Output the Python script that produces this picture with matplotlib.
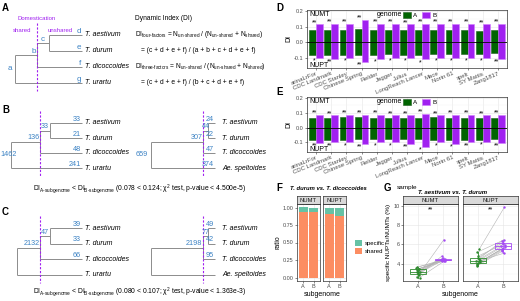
import numpy as np
import matplotlib.pyplot as plt

plt.rcParams["font.family"] = ["Liberation Sans", "DejaVu Sans"]
plt.rcParams["mathtext.default"] = "regular"

W, H = 520, 301
BLUE = "#3b82c4"
PURPLE = "#a020f0"
GREEN = "#006400"
GRAY_TXT = "#4d4d4d"

# ---------------- data ----------------
leaves_urartu = ["T. aestivum", "T. durum", "T. dicoccoides", "T. urartu"]
leaves_spelt = ["T. aestivum", "T. durum", "T. dicoccoides", "Ae. speltoides"]
node_letters = ["a", "b", "c", "d", "e", "f", "g"]
b_left_counts = [1462, 136, 33, 33, 21, 48, 241]
b_right_counts = [659, 307, 44, 24, 22, 47, 374]
c_left_counts = [None, 2132, 47, 39, 33, 66, None]
c_right_counts = [None, 2198, 77, 49, 42, 95, None]

cultivars = ["arinaLrFor", "CDC Landmark", "CDC Stanley", "Chinese Spring", "Fielder",
             "Jagger", "Julius", "LongReach Lancer", "Mace", "Norin 61", "spelt",
             "SY Mattis", "Zang1817"]
d_numt_a = [0.078, 0.078, 0.080, 0.082, 0.078, 0.080, 0.078, 0.078, 0.078, 0.078, 0.080, 0.075, 0.080]
d_numt_b = [0.115, 0.118, 0.118, 0.145, 0.118, 0.118, 0.115, 0.120, 0.118, 0.120, 0.118, 0.115, 0.120]
d_nupt_a = [-0.080, -0.080, -0.080, -0.080, -0.080, -0.075, -0.080, -0.080, -0.078, -0.078, -0.078, -0.078, -0.072]
d_nupt_b = [-0.100, -0.105, -0.100, -0.125, -0.105, -0.100, -0.100, -0.110, -0.100, -0.100, -0.100, -0.100, -0.105]
d_sig_top = ["**"] * 13
d_sig_bottom = ["*", "**", "*", "**", "*", "*", "*", "*", "*", "*", "*", "*", "**"]

e_numt_a = [0.068, 0.065, 0.070, 0.070, 0.068, 0.068, 0.065, 0.068, 0.070, 0.065, 0.068, 0.068, 0.068]
e_numt_b = [0.085, 0.083, 0.088, 0.085, 0.085, 0.083, 0.083, 0.092, 0.083, 0.085, 0.085, 0.083, 0.085]
e_nupt_a = [-0.082, -0.085, -0.082, -0.080, -0.080, -0.080, -0.080, -0.080, -0.082, -0.082, -0.082, -0.082, -0.078]
e_nupt_b = [-0.105, -0.100, -0.100, -0.108, -0.100, -0.100, -0.108, -0.130, -0.100, -0.108, -0.100, -0.098, -0.105]
e_sig_top = ["**"] * 13
e_sig_bottom = ["**", "**", "*", "**", "*", "*", "**", "*", "*", "*", "**", "*", "**"]

facets = ["NUMT", "NUPT"]
subgenomes = ["A", "B"]
f_numt_shared = [0.94, 0.93]
f_nupt_shared = [0.91, 0.88]

g_numt_a = [3.6, 3.3, 3.5, 2.7, 3.0, 3.2, 3.7, 2.9, 3.4, 3.1, 2.6, 3.2, 3.5]
g_numt_b = [4.4, 4.5, 4.3, 4.8, 4.4, 4.5, 4.3, 6.5, 4.4, 4.6, 4.3, 4.5, 4.4]
g_nupt_a = [4.3, 4.6, 5.5, 3.9, 4.1, 4.4, 5.2, 4.3, 4.0, 4.8, 4.2, 3.8, 4.5]
g_nupt_b = [5.8, 6.2, 9.8, 5.4, 5.6, 5.9, 6.4, 5.1, 5.5, 6.0, 5.7, 5.3, 6.5]

fig = plt.figure(figsize=(5.2, 3.01), dpi=100)


def px_axes(x0, y0, x1, y1):
    return fig.add_axes([x0 / W, 1 - y1 / H, (x1 - x0) / W, (y1 - y0) / H])


# left column canvas in pixel units
lc = px_axes(0, 0, 260, 301)
lc.set_xlim(0, 260)
lc.set_ylim(301, 0)
lc.axis("off")


def ctext(x, y, s, **kw):
    t = lc.text(x, y, s, **kw)
    t.set_clip_path(lc.patch)
    return t


def draw_tree(labels, leaves, root_x, b_x, c_x, tip_x, top_y, dy, a_x, a_ha,
              fs=5.2, name_dx=3):
    ys = top_y + dy * np.arange(4)
    c_y = (ys[0] + ys[1]) / 2
    b_y = (c_y + ys[2]) / 2
    a_y = (b_y + ys[3]) / 2
    segs = [([root_x, root_x], [b_y, ys[3]]), ([root_x, b_x], [b_y, b_y]),
            ([b_x, b_x], [c_y, ys[2]]), ([b_x, c_x], [c_y, c_y]),
            ([c_x, c_x], [ys[0], ys[1]]), ([c_x, tip_x], [ys[0], ys[0]]),
            ([c_x, tip_x], [ys[1], ys[1]]), ([b_x, tip_x], [ys[2], ys[2]]),
            ([root_x, tip_x], [ys[3], ys[3]])]
    for xs, yy in segs:
        lc.plot(xs, yy, color="#8c8c8c", lw=0.7, solid_capstyle="butt")
    lc.plot([b_x, b_x], [top_y - 12, ys[3] + 8], color=PURPLE, lw=0.8,
            ls=(0, (2, 1.5)))
    a, b, c, d, e, f, g = labels

    def lab(x, y, s, ha, va="bottom"):
        if s is not None:
            ctext(x, y, str(s), ha=ha, va=va, color=BLUE, fontsize=fs)

    lab(a_x, a_y, a, a_ha, "center")
    lab(b_x - 0.5, b_y - 0.3, b, "right")
    lab((b_x + c_x) / 2, c_y - 0.3, c, "center")
    for s, y in zip([d, e, f, g], ys):
        lab(tip_x - 1, y - 0.3, s, "right")
    for name, y in zip(leaves, ys):
        ctext(tip_x + name_dx, y, name, style="italic", fontsize=5, va="center")


# ---- panel A ----
ctext(2, 8, "A", fontsize=7, fontweight="bold", va="center")
ctext(37, 19, "Domestication", color=PURPLE, fontsize=4.3, ha="center", va="center")
ctext(22, 30, "shared", color=PURPLE, fontsize=4.3, ha="center", va="center")
ctext(60, 30, "unshared", color=PURPLE, fontsize=4.3, ha="center", va="center")
draw_tree(node_letters, leaves_urartu, 15, 37, 49, 82, 35, 16, 12, "right", fs=5.8)
ctext(135, 19, "Dynamic Index (DI)", fontsize=4.8, va="center")
ctext(135, 35, "DI$_{four‐factors}$ = N$_{un‐shared}$ / (N$_{un‐shared}$ + N$_{shared}$)",
      fontsize=4.8, va="center")
ctext(141, 51, "= (c + d + e + f) / (a + b + c + d + e + f)", fontsize=4.8, va="center")
ctext(135, 67, "DI$_{three‐factors}$ = N$_{un‐shared}$ / (N$_{un‐shared}$ + N$_{shared}$)",
      fontsize=4.8, va="center")
ctext(141, 83, "= (c + d + e + f) / (b + c + d + e + f)", fontsize=4.8, va="center")

# ---- panel B ----
ctext(2, 110, "B", fontsize=7, fontweight="bold", va="center")
draw_tree(b_left_counts, leaves_urartu, 11, 40, 50, 82, 123, 15, 17, "right")
draw_tree(b_right_counts, leaves_spelt, 151, 203, 208, 215, 123, 15, 148, "right", name_dx=7)
ctext(140, 189, "DI$_{A‐subgenome}$ < DI$_{B‐subgenome}$ (0.078 < 0.124; χ$^{2}$ test, p-value < 4.500e-5)",
      fontsize=4.9, ha="center", va="center")

# ---- panel C ----
ctext(2, 212, "C", fontsize=7, fontweight="bold", va="center")
draw_tree(c_left_counts, leaves_urartu, 17, 40, 50, 82, 228, 15.6, 14, "right")
draw_tree(c_right_counts, leaves_spelt, 151, 203, 208, 215, 228, 15.6, 148, "right", name_dx=7)
ctext(140, 292, "DI$_{A‐subgenome}$ < DI$_{B‐subgenome}$ (0.080 < 0.107; χ$^{2}$ test, p-value < 1.363e-3)",
      fontsize=4.9, ha="center", va="center")


# ---- panels D, E ----
def style_axes(ax):
    for s in ax.spines.values():
        s.set_color("#333333")
        s.set_linewidth(0.5)
    ax.tick_params(labelsize=4, length=1.5, width=0.4, pad=0.8, colors="#333333",
                   labelcolor=GRAY_TXT)
    ax.grid(True, color="#e5e5e5", lw=0.4)
    ax.set_axisbelow(True)


def di_panel(ax, pa, pb, na, nb, sig_top, sig_bot, leg_y):
    x = np.arange(len(cultivars))
    w = 0.45
    ba = ax.bar(x - w / 2, pa, w, color=GREEN, edgecolor="#1e5e1e", lw=0.4)
    bb = ax.bar(x + w / 2, pb, w, color=PURPLE, edgecolor="#d07cff", lw=0.4)
    ax.bar(x - w / 2, na, w, color=GREEN, edgecolor="#1e5e1e", lw=0.4)
    ax.bar(x + w / 2, nb, w, color=PURPLE, edgecolor="#d07cff", lw=0.4)
    ax.axhline(0, color="black", lw=0.6)
    for xi, s, top in zip(x, sig_top, np.maximum(pa, pb)):
        ax.text(xi - 0.1, top + 0.012, s, ha="center", va="center", fontsize=5)
    for xi, s, bot in zip(x, sig_bot, np.minimum(na, nb)):
        ax.text(xi - 0.1, bot - 0.022, s, ha="center", va="center", fontsize=5)
    ax.set_xlim(-0.6, 12.6)
    ax.set_ylim(-0.165, 0.207)
    ax.set_yticks([-0.1, 0.0, 0.1, 0.2])
    ax.set_yticklabels(["-0.1", "0.0", "0.1", "0.2"])
    ax.set_yticks([-0.15, -0.05, 0.05, 0.15], minor=True)
    ax.tick_params(which="minor", length=0)
    ax.grid(True, which="minor", color="#f2f2f2", lw=0.3)
    ax.set_xticks(x)
    ax.set_xticklabels(cultivars, rotation=22, ha="right", rotation_mode="anchor")
    style_axes(ax)
    ax.tick_params(axis="x", labelsize=4.3)
    ax.set_ylabel("DI", fontsize=5, labelpad=1)
    ax.text(0.01, 0.99, "NUMT", transform=ax.transAxes, fontsize=5, va="top")
    ax.text(0.01, -0.01, "NUPT", transform=ax.transAxes, fontsize=5, va="bottom")
    fig.text(377 / W, 1 - (leg_y - 0.5) / H, "genome", fontsize=5, va="center")
    ax.legend([ba, bb], ["A", "B"], ncol=2, loc="center left", frameon=False,
              bbox_to_anchor=(403 / W, 1 - leg_y / H), bbox_transform=fig.transFigure,
              fontsize=4.5, handlelength=1.2, handleheight=1.2, handletextpad=0.4,
              columnspacing=0.8, borderpad=0, borderaxespad=0)


fig.text(276 / W, 1 - 8 / H, "D", fontsize=7, fontweight="bold", va="center")
ax_d = px_axes(307, 10, 507, 68)
di_panel(ax_d, d_numt_a, d_numt_b, d_nupt_a, d_nupt_b, d_sig_top, d_sig_bottom, 15)

fig.text(276 / W, 1 - 92 / H, "E", fontsize=7, fontweight="bold", va="center")
ax_e = px_axes(307, 97, 507, 152)
di_panel(ax_e, e_numt_a, e_numt_b, e_nupt_a, e_nupt_b, e_sig_top, e_sig_bottom, 102)


# ---- facet helpers ----
def strip(x0, x1, label):
    s = px_axes(x0, 196, x1, 204)
    s.set_facecolor("#d9d9d9")
    s.set_xticks([])
    s.set_yticks([])
    for sp in s.spines.values():
        sp.set_color("#333333")
        sp.set_linewidth(0.5)
    s.text(0.5, 0.5, label, ha="center", va="center", fontsize=4.2,
           transform=s.transAxes, color="#1a1a1a")


PANEL_BOTTOM = 281

# ---- panel F ----
fig.text(276 / W, 1 - 188 / H, "F", fontsize=7, fontweight="bold", va="center")
fig.text(290 / W, 1 - 188 / H, "T. durum vs. T. dicoccoides", fontsize=4.2,
         fontweight="bold", style="italic", va="center")
TEAL, ORANGE = "#66c2a5", "#fc8d62"
xs = np.arange(1, len(subgenomes) + 1)
for i, (name, shared) in enumerate(zip(facets, [f_numt_shared, f_nupt_shared])):
    x0 = 297 + i * 26
    ax = px_axes(x0, 204, x0 + 23, PANEL_BOTTOM)
    shared = np.array(shared)
    h1 = ax.bar(xs, shared, 0.9, color=ORANGE)
    h2 = ax.bar(xs, 1 - shared, 0.9, bottom=shared, color=TEAL)
    ax.text(1.5, 0.985, "**", ha="center", va="bottom", fontsize=5)
    ax.set_xlim(0.4, 2.6)
    ax.set_ylim(-0.05, 1.05)
    ax.set_xticks(xs)
    ax.set_xticklabels(subgenomes)
    ax.set_yticks([0, 0.25, 0.5, 0.75, 1.0])
    style_axes(ax)
    if i == 0:
        ax.set_yticklabels(["0.00", "0.25", "0.50", "0.75", "1.00"])
        ax.set_ylabel("ratio", fontsize=5, labelpad=1)
    else:
        ax.set_yticklabels([])
        ax.tick_params(axis="y", length=0)
        ax.legend([h2, h1], ["specific", "shared"], loc="center left", frameon=False,
                  bbox_to_anchor=(355 / W, 1 - 247 / H), bbox_transform=fig.transFigure,
                  fontsize=4.3, handlelength=1.2, handleheight=1.2, handletextpad=0.5,
                  labelspacing=0.3, borderpad=0, borderaxespad=0)
    strip(x0, x0 + 23, name)
fig.text(322 / W, 1 - 294 / H, "subgenome", fontsize=5, ha="center", va="center")

# ---- panel G ----
fig.text(384 / W, 1 - 188 / H, "G", fontsize=7, fontweight="bold", va="center")
fig.text(397 / W, 1 - 187 / H, "sample", fontsize=4.6, va="center")
fig.text(453 / W, 1 - 192 / H, "T. aestivum vs. T. durum", fontsize=4.3,
         fontweight="bold", style="italic", ha="center", va="center")
jit = ((np.arange(13) * 5) % 13 - 6) * 0.012
G_PURPLE = "#a64bf4"
G_GREEN = "#2e8b2e"
for i, (name, av, bv) in enumerate(zip(facets, [g_numt_a, g_nupt_a], [g_numt_b, g_nupt_b])):
    x0 = 403 + i * 60
    ax = px_axes(x0, 204, x0 + 55, PANEL_BOTTOM)
    av, bv = np.array(av), np.array(bv)
    for ya, yb, j in zip(av, bv, jit):
        ax.plot([1 + j, 2 + j], [ya, yb], color="#b3b3b3", lw=0.4, zorder=2)
    for pos, vals, col in [(1, av, G_GREEN), (2, bv, G_PURPLE)]:
        ax.boxplot(vals, positions=[pos], widths=0.65, showfliers=False,
                   patch_artist=True,
                   boxprops=dict(facecolor="none", edgecolor=col, lw=0.6),
                   medianprops=dict(color=col, lw=0.6),
                   whiskerprops=dict(color=col, lw=0.6),
                   capprops=dict(lw=0), manage_ticks=False)
        ax.scatter(pos + jit, vals, s=3, color=col, zorder=3, lw=0)
    ax.text(1.5, 9.55, "**", ha="center", va="center", fontsize=5)
    ax.set_xlim(0.4, 2.6)
    ax.set_ylim(2.24, 10.16)
    ax.set_xticks(xs)
    ax.set_xticklabels(subgenomes)
    ax.set_yticks([4, 6, 8, 10])
    ax.set_yticks([3, 5, 7, 9], minor=True)
    ax.tick_params(which="minor", length=0)
    ax.grid(True, which="minor", color="#f2f2f2", lw=0.3)
    style_axes(ax)
    if i == 0:
        ax.set_ylabel("specific NUPTs/NUMTs (%)", fontsize=4.6, labelpad=2)
    else:
        ax.set_yticklabels([])
        ax.tick_params(axis="y", length=0)
    strip(x0, x0 + 55, name)
fig.text(460 / W, 1 - 294 / H, "subgenome", fontsize=5, ha="center", va="center")

fig.savefig("out.png", dpi=100)
